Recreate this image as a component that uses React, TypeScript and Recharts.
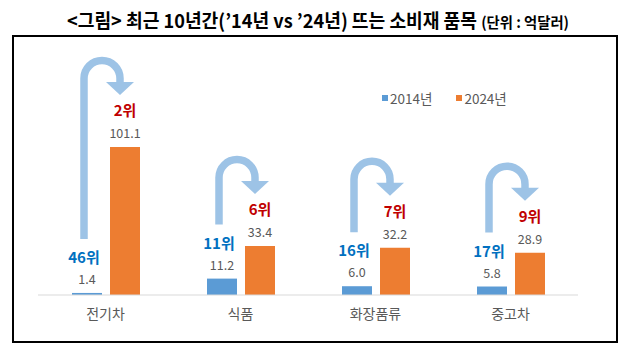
import React, { useLayoutEffect, useRef, useState } from 'react';
import { BarChart, Bar, XAxis, YAxis, LabelList, Legend } from 'recharts';

const categories = ['전기차', '식품', '화장품류', '중고차'];
const values2014 = [1.4, 11.2, 6.0, 5.8];
const values2024 = [101.1, 33.4, 32.2, 28.9];
const ranks2014 = [46, 11, 16, 17];
const ranks2024 = [2, 6, 7, 9];
const seriesNames = ['2014년', '2024년'];
const titleMain = '<그림> 최근 10년간(’14년 vs ’24년) 뜨는 소비재 품목';
const titleUnit = '(단위 : 억달러)';

const BLUE = '#5B9BD5';
const ORANGE = '#ED7D31';
const ARROW = '#9DC3E6';
const GRAY = '#595959';
const FONT = '"Noto Sans CJK KR", "Noto Sans", sans-serif';
const BAR_SIZE = 30;
const BAR_GAP = 8;

const data = categories.map((c, i) => ({
  name: c,
  y2014: values2014[i],
  y2024: values2024[i],
}));

const num = (v: any) => Number(v) || 0;

const BlueLabel = (props: any) => {
  const x = num(props.x);
  const y = num(props.y);
  const w = num(props.width);
  const i = props.index ?? 0;
  const cx = x + w / 2;
  return (
    <g>
      <text x={cx} y={y - 9} textAnchor="middle" fontSize={12.5} fill={GRAY} fontFamily={FONT}>
        {values2014[i].toFixed(1)}
      </text>
      <text x={cx - 3} y={y - 30} textAnchor="middle" fontSize={15} fontWeight="bold" fill="#0070C0" fontFamily={FONT}>
        {ranks2014[i] + '위'}
      </text>
    </g>
  );
};

const OrangeLabel = (props: any) => {
  const x = num(props.x);
  const y = num(props.y);
  const w = num(props.width);
  const h = num(props.height);
  const i = props.index ?? 0;
  const ox = x + w / 2;
  const baseline = y + h;
  const blueTop = baseline - (h * values2014[i]) / values2024[i];
  const bx = ox - w - BAR_GAP;
  const sx = bx - 3;
  const hx = ox - 5;
  const r = (hx - sx) / 2;
  const tip = y - 52;
  const headBase = tip - 13;
  const outerTop = tip - 38;
  const arcCy = outerTop + 3.5 + r;
  const shaftBottom = blueTop - 54;
  const path = `M ${sx} ${shaftBottom} L ${sx} ${arcCy} A ${r} ${r} 0 0 1 ${hx} ${arcCy} L ${hx} ${headBase + 1}`;
  return (
    <g>
      <path d={path} fill="none" stroke={ARROW} strokeWidth={7.5} />
      <polygon points={`${hx - 14},${headBase} ${hx + 14},${headBase} ${hx},${tip}`} fill={ARROW} />
      <text x={ox} y={y - 9} textAnchor="middle" fontSize={12.5} fill={GRAY} fontFamily={FONT}>
        {values2024[i].toFixed(1)}
      </text>
      <text x={ox} y={y - 31} textAnchor="middle" fontSize={15} fontWeight="bold" fill="#C00000" fontFamily={FONT}>
        {ranks2024[i] + '위'}
      </text>
    </g>
  );
};

const LegendContent = () => (
  <div style={{ display: 'flex', alignItems: 'center', fontFamily: FONT, fontSize: 13.5, color: GRAY, lineHeight: '16px' }}>
    {[BLUE, ORANGE].map((c, k) => (
      <div key={k} style={{ display: 'flex', alignItems: 'center', marginRight: k === 0 ? 24 : 0 }}>
        <span style={{ display: 'inline-block', width: 6, height: 6, background: c, marginRight: 2 }} />
        <span>{seriesNames[k]}</span>
      </div>
    ))}
  </div>
);

const Title = () => {
  const ref = useRef<SVGTextElement>(null);
  const [s, setS] = useState(0.85);
  useLayoutEffect(() => {
    if (ref.current) {
      const len = ref.current.getComputedTextLength();
      if (len > 0) setS(502 / len);
    }
  }, []);
  return (
    <g transform={`translate(67,28) scale(${s},1)`}>
      <text ref={ref} x={0} y={0} fontSize={19} fontWeight="bold" fill="#000" fontFamily={FONT}>
        <tspan>{titleMain + ' '}</tspan>
        <tspan fontSize={15}>{titleUnit}</tspan>
      </text>
    </g>
  );
};

export default function App() {
  return (
    <div style={{ position: 'absolute', left: 0, top: 0, width: 630, height: 355, background: '#fff', overflow: 'hidden' }}>
      <svg width={630} height={34} style={{ position: 'absolute', left: 0, top: 0 }}>
        <Title />
      </svg>
      <div style={{ position: 'absolute', left: 12, top: 35, width: 606, height: 308, border: '2px solid #000', boxSizing: 'border-box' }} />
      <div style={{ position: 'absolute', left: 0, top: 0 }}>
        <BarChart
          width={630}
          height={355}
          data={data}
          margin={{ top: 90, right: 52, bottom: 30, left: 38 }}
          barSize={BAR_SIZE}
          barGap={BAR_GAP}
        >
          <XAxis
            dataKey="name"
            height={30}
            tickLine={false}
            axisLine={{ stroke: '#D9D9D9', strokeWidth: 1 }}
            tick={{ fontSize: 14, fill: GRAY, fontFamily: FONT }}
            tickMargin={8}
            interval={0}
          />
          <YAxis hide domain={[0, 140]} />
          <Legend
            layout="horizontal"
            verticalAlign="middle"
            align="center"
            content={LegendContent}
            wrapperStyle={{ position: 'absolute', left: 382, top: 90, width: 'auto' }}
          />
          <Bar dataKey="y2014" name={seriesNames[0]} fill={BLUE} isAnimationActive={false}>
            <LabelList dataKey="y2014" content={BlueLabel} />
          </Bar>
          <Bar dataKey="y2024" name={seriesNames[1]} fill={ORANGE} isAnimationActive={false}>
            <LabelList dataKey="y2024" content={OrangeLabel} />
          </Bar>
        </BarChart>
      </div>
    </div>
  );
}
